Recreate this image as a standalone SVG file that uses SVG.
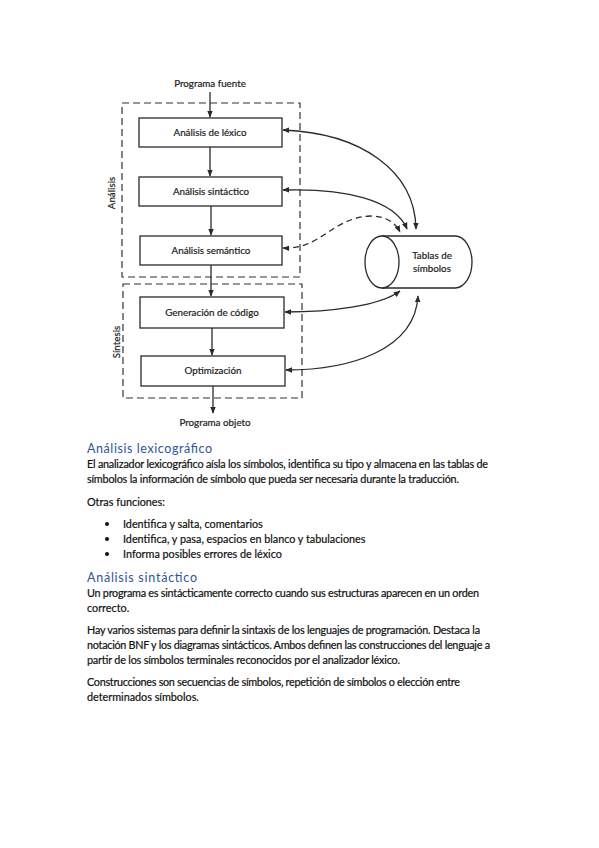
<svg xmlns="http://www.w3.org/2000/svg" width="599" height="848" viewBox="0 0 599 848">
<defs>
<marker id="ah" viewBox="0 0 10 10" refX="9" refY="5" markerWidth="7" markerHeight="7" orient="auto-start-reverse" markerUnits="userSpaceOnUse">
<path d="M0,1 L10,5 L0,9 z" fill="#2a2a2a"/>
</marker>
<style>
.box{fill:#fff;stroke:#2a2a2a;stroke-width:1.3}
.dash{fill:none;stroke:#333;stroke-width:1.2;stroke-dasharray:7 4}
.lbl{font-family:Lato,"Liberation Sans",sans-serif;font-size:9.8px;fill:#222;stroke:#222;stroke-width:0.2;text-anchor:middle}
.con{fill:none;stroke:#2a2a2a;stroke-width:1.3}
.cd{stroke-dasharray:6 4}
.h{font-family:Lato,"Carlito","Liberation Sans",sans-serif;font-size:12.5px;fill:#2F5496}
.b{font-family:Lato,"Carlito","Liberation Sans",sans-serif;font-size:10.8px;fill:#111;stroke:#111;stroke-width:0.2}
</style>
</defs>
<rect width="599" height="848" fill="#fff"/>

<g id="group-analisis">
<rect class="dash" x="122" y="103" width="178" height="174"/>
<text class="lbl" transform="translate(115,193) rotate(-90)">Análisis</text>
</g>
<g id="group-sintesis">
<rect class="dash" x="123" y="284" width="179" height="114"/>
<text class="lbl" transform="translate(120,342) rotate(-90)">Síntesis</text>
</g>

<g id="n-fuente"><text class="lbl" x="210" y="87">Programa fuente</text></g>
<g id="n-lexico"><rect class="box" x="139" y="118" width="143" height="29"/><text class="lbl" x="210" y="136">Análisis de léxico</text></g>
<g id="n-sintactico"><rect class="box" x="139" y="177" width="143" height="29"/><text class="lbl" x="211" y="195">Análisis sintáctico</text></g>
<g id="n-semantico"><rect class="box" x="140" y="236" width="142" height="29"/><text class="lbl" x="211" y="254">Análisis semántico</text></g>
<g id="n-generacion"><rect class="box" x="140" y="297" width="144" height="31"/><text class="lbl" x="212" y="316">Generación de código</text></g>
<g id="n-optimizacion"><rect class="box" x="141" y="356" width="144" height="30"/><text class="lbl" x="213" y="374">Optimización</text></g>
<g id="n-objeto"><text class="lbl" x="215" y="426">Programa objeto</text></g>
<g id="n-tablas">
<path d="M382,236 L455,236 A17,26 0 0 1 455,288 L382,288" fill="#fff" stroke="#2a2a2a" stroke-width="1.3"/>
<ellipse cx="382" cy="262" rx="17" ry="26" fill="#fff" stroke="#2a2a2a" stroke-width="1.3"/>
<text class="lbl" x="432" y="259">Tablas de</text>
<text class="lbl" x="432" y="272">símbolos</text>
</g>

<g id="connectors">
<path class="con" d="M210,92 L210,117" marker-end="url(#ah)"/>
<path class="con" d="M210,147 L210,176" marker-end="url(#ah)"/>
<path class="con" d="M211,206 L211,235" marker-end="url(#ah)"/>
<path class="con" d="M211,265 L211,296" marker-end="url(#ah)"/>
<path class="con" d="M212,328 L212,355" marker-end="url(#ah)"/>
<path class="con" d="M213,386 L213,413" marker-end="url(#ah)"/>
<path class="con" d="M283,130 C360,133 415,170 416,229" marker-start="url(#ah)" marker-end="url(#ah)"/>
<path class="con" d="M283,190 C345,188 395,200 407,229" marker-start="url(#ah)" marker-end="url(#ah)"/>
<path class="con cd" d="M283,248 C320,250 332,218 370,216 C385,216 395,222 400,232" marker-start="url(#ah)" marker-end="url(#ah)"/>
<path class="con" d="M285,312 C330,312 380,306 400,291" marker-start="url(#ah)" marker-end="url(#ah)"/>
<path class="con" d="M286,370 C350,370 415,350 418,296" marker-start="url(#ah)" marker-end="url(#ah)"/>
</g>

<g id="texto">
<text class="h" x="87" y="453" textLength="125" lengthAdjust="spacing">Análisis lexicográfico</text>
<text class="b" x="87" y="468" textLength="401" lengthAdjust="spacing">El analizador lexicográfico aísla los símbolos, identifica su tipo y almacena en las tablas de</text>
<text class="b" x="87" y="483" textLength="372" lengthAdjust="spacing">símbolos la información de símbolo que pueda ser necesaria durante la traducción.</text>
<text class="b" x="87" y="506">Otras funciones:</text>
<circle cx="107" cy="524" r="2" fill="#111"/>
<circle cx="107" cy="539" r="2" fill="#111"/>
<circle cx="107" cy="554" r="2" fill="#111"/>
<text class="b" x="123" y="528">Identifica y salta, comentarios</text>
<text class="b" x="123" y="543">Identifica, y pasa, espacios en blanco y tabulaciones</text>
<text class="b" x="123" y="558">Informa posibles errores de léxico</text>
<text class="h" x="87" y="582" textLength="110" lengthAdjust="spacing">Análisis sintáctico</text>
<text class="b" x="87" y="597" textLength="392" lengthAdjust="spacing">Un programa es sintácticamente correcto cuando sus estructuras aparecen en un orden</text>
<text class="b" x="87" y="612">correcto.</text>
<text class="b" x="87" y="634" textLength="393" lengthAdjust="spacing">Hay varios sistemas para definir la sintaxis de los lenguajes de programación. Destaca la</text>
<text class="b" x="87" y="649" textLength="403" lengthAdjust="spacing">notación BNF y los diagramas sintácticos. Ambos definen las construcciones del lenguaje a</text>
<text class="b" x="87" y="664" textLength="313" lengthAdjust="spacing">partir de los símbolos terminales reconocidos por el analizador léxico.</text>
<text class="b" x="87" y="686" textLength="373" lengthAdjust="spacing">Construcciones son secuencias de símbolos, repetición de símbolos o elección entre</text>
<text class="b" x="87" y="701">determinados símbolos.</text>
</g>
</svg>
